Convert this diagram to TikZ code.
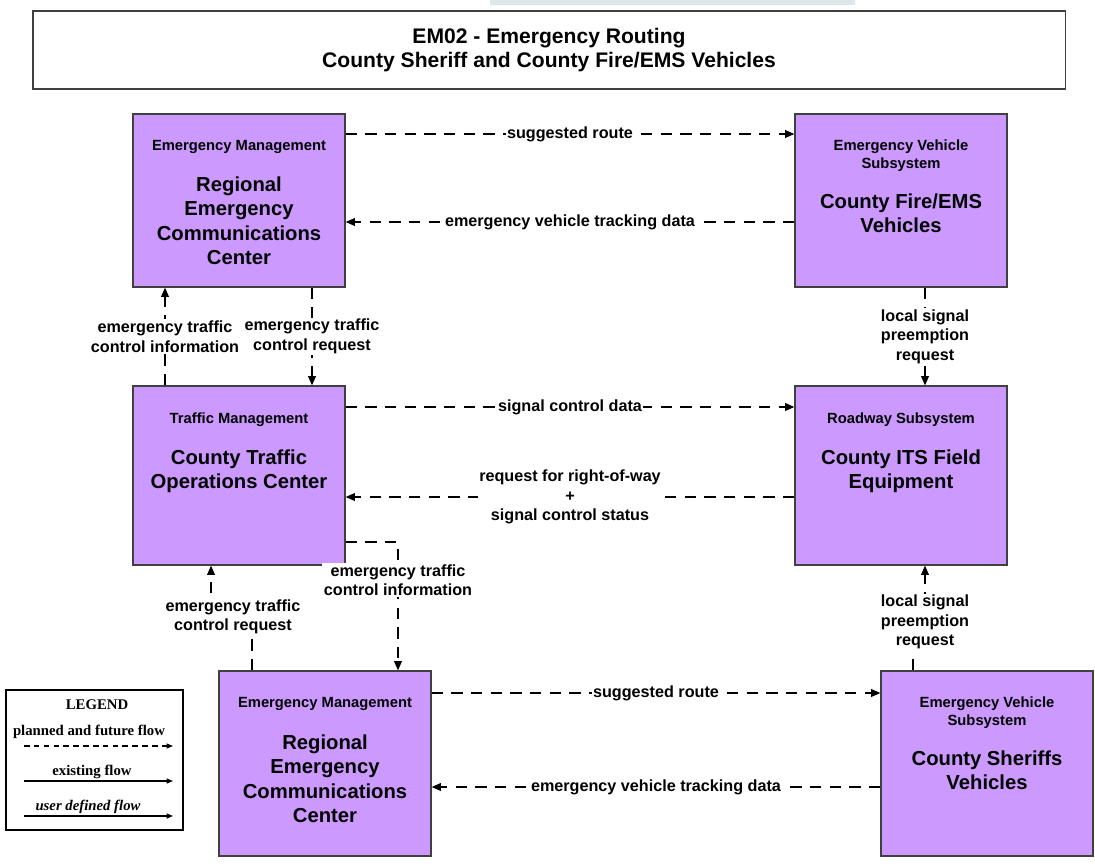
\documentclass[tikz,border=0pt]{standalone}
\usepackage{fontspec}
\setmainfont{Liberation Sans}
\newfontfamily\legfont{Liberation Serif}
\usetikzlibrary{arrows.meta,calc}
\definecolor{boxfill}{HTML}{CC99FF}
\definecolor{boxline}{HTML}{404040}
\definecolor{topbar}{HTML}{DDE7EA}
\begin{document}
\begin{tikzpicture}[x=0.025cm,y=-0.025cm,
  sysbox/.style={draw=boxline, line width=0.9pt, fill=boxfill, inner sep=0pt, minimum width=5.3cm},
  hdr/.style={anchor=north, inner sep=0pt, align=center, font=\fontsize{10.5}{12.8}\selectfont\bfseries},
  ttl/.style={anchor=north, inner sep=0pt, align=center, font=\fontsize{14.4}{17.4}\selectfont\bfseries},
  flow/.style={draw=black, line width=0.8pt, dash pattern=on 8pt off 6pt, -{Triangle[length=6.5pt,width=5.5pt]}},
  lbl/.style={fill=white, inner sep=1pt, align=center, font=\fontsize{11.5}{13.9}\selectfont\bfseries},
  legtxt/.style={inner sep=0pt, font=\legfont\fontsize{10.5}{12}\selectfont\bfseries},
  legflow/.style={draw=black, line width=0.8pt, -{Triangle[length=4.5pt,width=3.5pt]}},
]
\useasboundingbox (0,0) rectangle (1095,867);
\fill[topbar] (490,0) rectangle (855,5);

% title
\node[draw=boxline, line width=0.9pt, minimum width=25.8cm, minimum height=1.95cm, inner sep=0pt,
      align=center, font=\fontsize{15}{17}\selectfont\bfseries] (title) at (549,50)
  {EM02 - Emergency Routing\\County Sheriff and County Fire/EMS Vehicles};

% boxes
\node[sysbox, minimum height=4.325cm] (rect) at (239,200.5) {};
\node[sysbox, minimum height=4.325cm] (fire) at (901,200.5) {};
\node[sysbox, minimum height=4.475cm] (tmc)  at (239,475.5) {};
\node[sysbox, minimum height=4.475cm] (its)  at (901,475.5) {};
\node[sysbox, minimum height=4.625cm] (recb) at (325,763.5) {};
\node[sysbox, minimum height=4.625cm] (sher) at (987,763.5) {};

\node[hdr] (rect-h) at ($(rect.north)+(0,27)$) {Emergency Management};
\node[ttl] (rect-t) at ($(rect.north)+(0,63)$) {Regional\\Emergency\\Communications\\Center};
\node[hdr] (fire-h) at ($(fire.north)+(0,26)$) {Emergency Vehicle\\Subsystem};
\node[ttl] (fire-t) at ($(fire.north)+(0,80)$) {County Fire/EMS\\Vehicles};
\node[hdr] (tmc-h) at ($(tmc.north)+(0,27)$) {Traffic Management};
\node[ttl] (tmc-t) at ($(tmc.north)+(0,64)$) {County Traffic\\Operations Center};
\node[hdr] (its-h) at ($(its.north)+(0,27)$) {Roadway Subsystem};
\node[ttl] (its-t) at ($(its.north)+(0,64)$) {County ITS Field\\Equipment};
\node[hdr] (recb-h) at ($(recb.north)+(0,27)$) {Emergency Management};
\node[ttl] (recb-t) at ($(recb.north)+(0,64)$) {Regional\\Emergency\\Communications\\Center};
\node[hdr] (sher-h) at ($(sher.north)+(0,26)$) {Emergency Vehicle\\Subsystem};
\node[ttl] (sher-t) at ($(sher.north)+(0,80)$) {County Sheriffs\\Vehicles};

% helper coordinates
\coordinate (y134) at (0,134);
\coordinate (y222) at (0,222);
\coordinate (y407) at (0,407);
\coordinate (y497) at (0,497);
\coordinate (y542) at (0,542);
\coordinate (y693) at (0,693);
\coordinate (y787) at (0,787);
\coordinate (x165) at (165,0);
\coordinate (x312) at (312,0);
\coordinate (x925) at (925,0);
\coordinate (x398) at (398,0);
\coordinate (x252) at (252,0);
\coordinate (x211) at (211,0);
\coordinate (x913) at (913,0);
\coordinate (b9) at (211,616);
\coordinate (b10a) at (913,622);
\coordinate (b10b) at (925,622);

% connectors
\draw[flow] (rect.east |- y134) -- node[lbl] (l1) {suggested route} (fire.west |- y134);
\draw[flow] (fire.west |- y222) -- node[lbl] (l2) {emergency vehicle tracking data} (rect.east |- y222);
\draw[flow] (tmc.north -| x165) -- node[lbl] (l3) {emergency traffic\\control information} (rect.south -| x165);
\draw[flow] (rect.south -| x312) -- node[lbl] (l4) {emergency traffic\\control request} (tmc.north -| x312);
\draw[flow] (fire.south -| x925) -- node[lbl] (l5) {local signal\\preemption\\request} (its.north -| x925);
\draw[flow] (tmc.east |- y407) -- node[lbl] (l6) {signal control data} (its.west |- y407);
\draw[flow] (its.west |- y497) -- node[lbl] (l7) {request for right-of-way\\+\\signal control status} (tmc.east |- y497);
\draw[flow] (tmc.east |- y542) -| (recb.north -| x398);
\node[lbl] (l8) at (398,580) {emergency traffic\\control information};
\draw[flow] (recb.north -| x252) |- (b9) -- (tmc.south -| x211);
\node[lbl] (l9) at (233,617) {emergency traffic\\control request};
\draw[flow] (sher.north -| x913) -- (b10a) -- (b10b) -- (its.south -| x925);
\node[lbl] (l10) at (925,622) {local signal\\preemption\\request};
\draw[flow] (recb.east |- y693) -- node[lbl] (l11) {suggested route} (sher.west |- y693);
\draw[flow] (sher.west |- y787) -- node[lbl] (l12) {emergency vehicle tracking data} (recb.east |- y787);

% legend
\node[draw=black, line width=0.9pt, minimum width=4.425cm, minimum height=3.5cm, inner sep=0pt] (legend) at (94.5,760) {};
\node[legtxt] (lg0) at (97,705) {LEGEND};
\node[legtxt] (lg1) at (89,732) {planned and future flow};
\node[legtxt] (lg2) at (92,772) {existing flow};
\node[legtxt] (lg3) at (88,807) {\itshape user defined flow};
\coordinate (la1) at (24,746);
\coordinate (lb1) at (173,746);
\coordinate (la2) at (24,781);
\coordinate (lb2) at (173,781);
\coordinate (la3) at (24,816);
\coordinate (lb3) at (173,816);
\draw[legflow, dash pattern=on 4pt off 3pt] (la1) -- (lb1);
\draw[legflow] (la2) -- (lb2);
\draw[legflow] (la3) -- (lb3);
\end{tikzpicture}
\end{document}
